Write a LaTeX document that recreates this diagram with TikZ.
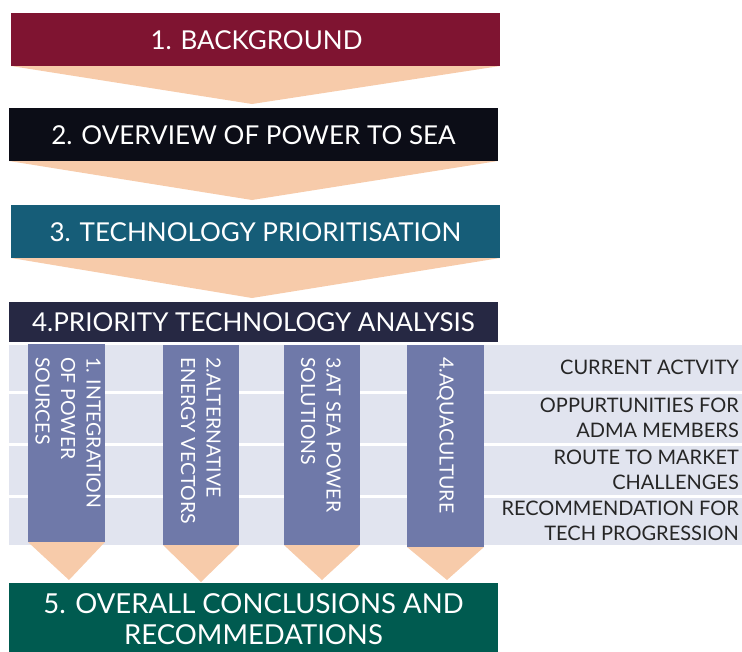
\documentclass[tikz,border=0pt]{standalone}
\usepackage{fontspec}
\setmainfont{Lato}
\begin{document}
\definecolor{barRed}{HTML}{7F1431}
\definecolor{barBlack}{HTML}{0C0D17}
\definecolor{barTeal}{HTML}{165D78}
\definecolor{barNavy}{HTML}{262843}
\definecolor{barGreen}{HTML}{005B50}
\definecolor{peach}{HTML}{F7CBAA}
\definecolor{band}{HTML}{E1E4EF}
\definecolor{colBox}{HTML}{6F79A9}
\definecolor{labelInk}{HTML}{262626}
\begin{tikzpicture}[x=1pt,y=-1pt,
  bar/.style={inner sep=0pt,outer sep=0pt,text=white,font=\fontsize{26}{30}\selectfont},
  pointer/.style={fill=peach},
  colbox/.style={fill=colBox},
  coltext/.style={rotate=-90,anchor=north west,align=left,inner sep=0pt,text=white,
    font=\fontsize{19.5}{25.5}\selectfont},
  rowlabel/.style={anchor=east,align=right,inner sep=0pt,text=labelInk,
    font=\fontsize{20}{24.5}\selectfont}]
\useasboundingbox (0,0) rectangle (742,651);

% stage bars with the wide arrows between them
\fill[barRed] (11,13) rectangle (500,66);
\node[bar] (b1) at (256.5,40) {1. BACKGROUND};
\fill[pointer] (11,66) -- (500,66) -- (252,104) -- cycle;

\fill[barBlack] (9,108) rectangle (498,161);
\node[bar] (b2) at (253.5,135) {2. OVERVIEW OF POWER TO SEA};
\fill[pointer] (9,161) -- (498,161) -- (252,200) -- cycle;

\fill[barTeal] (11,205) rectangle (500,258);
\node[bar] (b3) at (255.5,232) {3. TECHNOLOGY PRIORITISATION};
\fill[pointer] (11,258) -- (500,258) -- (252,298) -- cycle;

\fill[barNavy] (9,302) rectangle (498,342);
\node[bar] (b4) at (253.5,322) {4.PRIORITY TECHNOLOGY ANALYSIS};

% analysis band with its four rows
\fill[band] (9,345) rectangle (742,545);
\foreach \yy in {392,444,496}
  \fill[white] (9,\yy-1.5) rectangle (742,\yy+1.5);

\node[rowlabel] (r1) at (739,367) {CURRENT ACTVITY};
\node[rowlabel] (r2) at (739,418) {OPPURTUNITIES FOR\\ADMA MEMBERS};
\node[rowlabel] (r3) at (739,470) {ROUTE TO MARKET\\CHALLENGES};
\node[rowlabel] (r4) at (739,521) {RECOMMENDATION FOR\\TECH PROGRESSION};

% priority technology columns and their pointers
\fill[pointer] (28,542) -- (105,542) -- (69,580) -- cycle;
\fill[pointer] (163,545) -- (239,545) -- (201,582) -- cycle;
\fill[pointer] (284,545) -- (360,545) -- (322,580) -- cycle;
\fill[pointer] (407,547) -- (484,547) -- (447,580) -- cycle;

\fill[colbox] (28,344) rectangle (105,542);
\fill[colbox] (163,345) rectangle (239,545);
\fill[colbox] (284,345) rectangle (360,545);
\fill[colbox] (407,345) rectangle (484,547);

\node[coltext] (c1) at (101,357) {1. INTEGRATION\\OF POWER\\SOURCES};
\node[coltext] (c2) at (221,357) {2.ALTERNATIVE\\ENERGY VECTORS};
\node[coltext] (c3) at (341,357) {3.AT SEA POWER\\SOLUTIONS};
\node[coltext] (c4) at (454,357) {4.AQUACULTURE};

% conclusions bar
\fill[barGreen] (9,583) rectangle (498,660);
\node[bar,align=center,font=\fontsize{27.5}{30.5}\selectfont] (b5) at (253.5,619) {5. OVERALL CONCLUSIONS AND\\RECOMMEDATIONS};
\end{tikzpicture}
\end{document}
